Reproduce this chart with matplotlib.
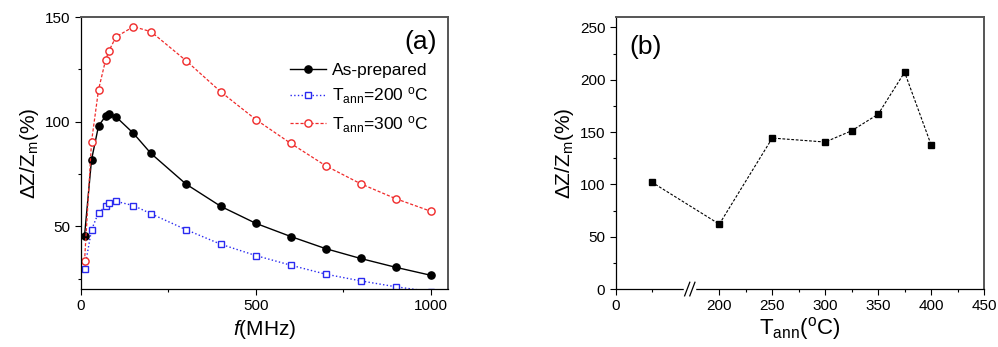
import numpy as np
import matplotlib
matplotlib.use("Agg")
from matplotlib import pyplot as plt
from matplotlib.ticker import MultipleLocator, FixedLocator

plt.rcParams["font.family"] = ["Liberation Sans", "DejaVu Sans"]
plt.rcParams["mathtext.fontset"] = "custom"
plt.rcParams["mathtext.rm"] = "Liberation Sans"
plt.rcParams["mathtext.it"] = "Liberation Sans:italic"
plt.rcParams["mathtext.default"] = "regular"

# panel (a): GMI ratio vs frequency
freq = [10, 30, 50, 70, 80, 100, 150, 200, 300, 400, 500, 600, 700, 800, 900, 1000]
as_prepared = [45.5, 81.8, 97.9, 102.6, 103.6, 102.3, 94.4, 84.8, 70.2, 59.5,
               51.4, 45.1, 39.3, 34.6, 30.4, 26.6]
ann_200 = [29.5, 48.3, 56.5, 59.5, 61.0, 61.9, 59.9, 56.0, 48.4, 41.4,
           36.0, 31.4, 27.1, 23.9, 21.1, 18.8]
ann_300 = [33.3, 90.4, 115.2, 129.3, 133.9, 140.5, 145.4, 143.0, 129.2, 114.2,
           101.0, 89.6, 78.9, 70.3, 63.2, 57.2]

# panel (b): max GMI ratio vs annealing temperature (first point = as-prepared)
t_ann = [50, 200, 250, 300, 325, 350, 375, 400]
gmi_max = [102.3, 62.0, 144.3, 140.5, 151.3, 167.1, 207.2, 137.9]

fig = plt.figure(figsize=(9.98, 3.47), dpi=100)
ax1 = fig.add_axes([0.0812, 0.167, 0.3678, 0.784])
ax2 = fig.add_axes([0.617, 0.167, 0.369, 0.784])

ax1.plot(freq, as_prepared, "-o", color="black", lw=1.0, ms=5.2, label="As-prepared")
ax1.plot(freq, ann_200, ":s", color="#2a2af0", lw=1.0, ms=4.6, mfc="white", mew=1.0,
         label="T$_{ann}$=200 $^{o}$C")
ax1.plot(freq, ann_300, "--o", color="#f02a2a", lw=0.9, ms=5.2, mfc="white", mew=1.0,
         dashes=(2.5, 1.5), label="T$_{ann}$=300 $^{o}$C")
ax1.set_xlim(0, 1050)
ax1.set_ylim(20, 150)
ax1.xaxis.set_major_locator(MultipleLocator(500))
ax1.xaxis.set_minor_locator(MultipleLocator(250))
ax1.yaxis.set_major_locator(MultipleLocator(50))
ax1.yaxis.set_minor_locator(MultipleLocator(25))
ax1.set_xlabel("$\\mathit{f}$(MHz)", fontsize=15, labelpad=3)
ax1.set_ylabel("ΔZ/Z$_m$(%)", fontsize=15, labelpad=3)
ax1.text(0.924, 0.908, "(a)", transform=ax1.transAxes, fontsize=19,
         ha="center", va="center")
ax1.legend(loc="upper left", bbox_to_anchor=(0.569, 0.833), frameon=False, fontsize=12.5,
           handlelength=2.1, handletextpad=0.35, labelspacing=0.45, borderaxespad=0,
           borderpad=0)

# broken x axis on panel (b): 0..50 wide, 50..200 squeezed
def fwd(x):
    return np.interp(x, [0, 50, 200, 450], [0, 33.8, 97.8, 347.8])

def inv(y):
    return np.interp(y, [0, 33.8, 97.8, 347.8], [0, 50, 200, 450])

ax2.set_xscale("function", functions=(fwd, inv))
ax2.plot(t_ann, gmi_max, "--s", color="black", lw=0.8, ms=5.0, dashes=(2.5, 1.5))
ax2.set_xlim(0, 450)
ax2.set_ylim(0, 260)
ax2.xaxis.set_major_locator(FixedLocator([0, 200, 250, 300, 350, 400, 450]))
ax2.xaxis.set_minor_locator(FixedLocator([50, 225, 275, 325, 375, 425]))
ax2.yaxis.set_major_locator(MultipleLocator(50))
ax2.yaxis.set_minor_locator(MultipleLocator(25))
ax2.set_xlabel("T$_{ann}$($^{o}$C)", fontsize=16, labelpad=1)
ax2.set_ylabel("ΔZ/Z$_m$(%)", fontsize=15, labelpad=3)
ax2.text(0.080, 0.888, "(b)", transform=ax2.transAxes, fontsize=19,
         ha="center", va="center")

# break marks on the bottom axis
bx = 0.201
ax2.plot([bx - 0.012, bx + 0.012], [0.0, 0.0], color="white", lw=2.5,
         transform=ax2.transAxes, clip_on=False, zorder=5)
for dx in (-0.007, 0.007):
    ax2.plot([bx + dx - 0.007, bx + dx + 0.007], [-0.025, 0.025], color="black", lw=0.9,
             transform=ax2.transAxes, clip_on=False, zorder=6)

for ax in (ax1, ax2):
    ax.tick_params(which="major", direction="out", length=4, width=0.8, labelsize=11)
    ax.tick_params(which="minor", direction="out", length=2.5, width=0.8)
    ax.spines["left"].set_linewidth(0.9)
    ax.spines["bottom"].set_linewidth(0.9)
    for side in ("top", "right"):
        ax.spines[side].set_color("#555555")
        ax.spines[side].set_linewidth(1.4)

fig.savefig("out.png", dpi=100)
